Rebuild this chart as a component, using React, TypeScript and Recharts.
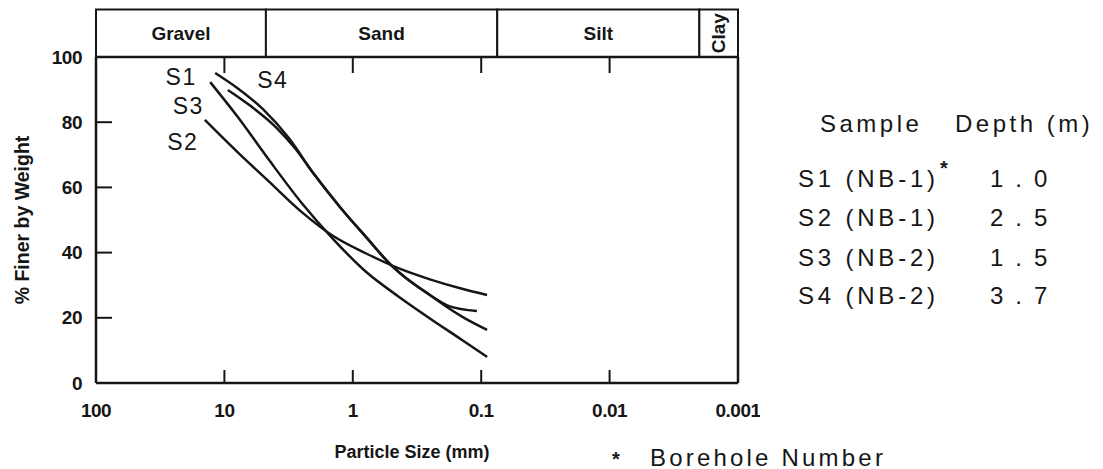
import React from 'react';
import { LineChart, Line, XAxis, YAxis, ReferenceArea, Label } from 'recharts';

const FONT = '"Liberation Sans", Arial, Helvetica, sans-serif';
const INK = '#161616';

// x axis (particle size, mm) and y axis (% finer) ticks
const xTicks = [100, 10, 1, 0.1, 0.01, 0.001];
const yTicks = [0, 20, 40, 60, 80, 100];

// soil classes shown in the header band (size boundaries, mm)
const classNames = ['Gravel', 'Sand', 'Silt', 'Clay'];
const classFrom = [100, 4.75, 0.075, 0.002];
const classTo = [4.75, 0.075, 0.002, 0.001];

// grading curves: particle size (mm) and % finer by weight
const s1Size = [11.8, 7.94, 5.01, 3.16, 2.0, 1.26, 0.794, 0.501, 0.355, 0.251, 0.178, 0.108];
const s1Pct = [95.1, 90.5, 84.0, 75.2, 64.0, 54.0, 44.9, 36.1, 31.1, 27.0, 23.6, 22.1];

const s2Size = [14.2, 7.94, 4.47, 2.51, 1.41, 0.794, 0.447, 0.251, 0.141, 0.09];
const s2Pct = [80.7, 70.9, 61.7, 52.5, 45.0, 39.8, 35.3, 31.8, 28.9, 27.0];

const s3Size = [12.9, 7.94, 4.47, 2.51, 1.41, 0.794, 0.447, 0.251, 0.141, 0.09];
const s3Pct = [92.3, 81.8, 68.3, 55.3, 44.0, 34.2, 26.7, 19.8, 13.2, 8.0];

const s4Size = [9.4, 6.31, 3.98, 2.82, 2.0, 1.26, 0.794, 0.501, 0.355, 0.251, 0.185, 0.139, 0.09];
const s4Pct = [89.9, 85.1, 78.5, 72.0, 64.0, 54.0, 44.9, 36.1, 31.1, 27.0, 23.3, 20.2, 16.3];

// legend table
const sampleIds = ['S1', 'S2', 'S3', 'S4'];
const boreholes = ['NB-1', 'NB-1', 'NB-2', 'NB-2'];
const depths = ['1.0', '2.5', '1.5', '3.7'];
const footnotedSample = 'S1';

const zip = (sizes: number[], pcts: number[]) => sizes.map((size, i) => ({ size, pct: pcts[i] }));

const series = [
  { id: 'S1', data: zip(s1Size, s1Pct), dx: -34, dy: 4 },
  { id: 'S2', data: zip(s2Size, s2Pct), dx: -22, dy: 22 },
  { id: 'S3', data: zip(s3Size, s3Pct), dx: -22, dy: 24 },
  { id: 'S4', data: zip(s4Size, s4Pct), dx: 45, dy: -10 },
];

// layout constant: header band top expressed on the % scale
const HEADER_TOP = 114.6;

const tickText = { fontFamily: FONT, fontSize: 19, fontWeight: 700, fill: INK } as const;

const LeftTick = (props: any) => {
  const { x, y, payload } = props;
  const v = payload.value;
  return (
    <g>
      {v > 0 && v < 100 && <line x1={x} x2={x + 16} y1={y} y2={y} stroke={INK} strokeWidth={2} />}
      <text x={x - 14} y={y} textAnchor="end" dominantBaseline="central" style={tickText} letterSpacing={-0.5}>
        {v}
      </text>
    </g>
  );
};

const RightTick = (props: any) => {
  const { x, y, payload } = props;
  const v = payload.value;
  if (!(v > 0 && v < 100)) return <g />;
  return <line x1={x} x2={x - 15} y1={y} y2={y} stroke={INK} strokeWidth={2} />;
};

const BottomTick = (props: any) => {
  const { x, y, payload } = props;
  const v = payload.value;
  return (
    <g>
      {v < 100 && v > 0.001 && <line x1={x} x2={x} y1={y} y2={y - 13} stroke={INK} strokeWidth={2} />}
      <text x={x} y={y + 27} textAnchor="middle" dominantBaseline="central" style={tickText} letterSpacing={-0.5}>
        {String(v)}
      </text>
    </g>
  );
};

const TopTick = (props: any) => {
  const { x, y, payload } = props;
  const v = payload.value;
  if (!(v < 100 && v > 0.001)) return <g />;
  return <line x1={x} x2={x} y1={y} y2={y + 16} stroke={INK} strokeWidth={2} />;
};

const XLabel = (props: any) => {
  const vb = props.viewBox;
  return (
    <text x={vb.x + vb.width / 2 - 5} y={vb.y + 69} textAnchor="middle" dominantBaseline="central"
      style={{ fontFamily: FONT, fontSize: 18, fontWeight: 700, fill: INK }}>
      Particle Size (mm)
    </text>
  );
};

const YLabel = (props: any) => {
  const vb = props.viewBox;
  const cx = vb.x + 22;
  const cy = vb.y + vb.height / 2;
  return (
    <text x={cx} y={cy} transform={`rotate(-90 ${cx} ${cy})`} textAnchor="middle" dominantBaseline="central"
      style={{ fontFamily: FONT, fontSize: 19.5, fontWeight: 700, fill: INK }}>
      % Finer by Weight
    </text>
  );
};

const headerLabel = (name: string, vertical: boolean) => (props: any) => {
  const vb = props.viewBox;
  const cx = vb.x + vb.width / 2;
  const cy = vb.y + vb.height / 2;
  return (
    <text x={cx} y={cy} transform={vertical ? `rotate(-90 ${cx} ${cy})` : undefined}
      textAnchor="middle" dominantBaseline="central"
      style={{ fontFamily: FONT, fontSize: 19, fontWeight: 700, fill: INK }}>
      {name}
    </text>
  );
};

const curveLabel = (id: string, dx: number, dy: number) => (props: any) => {
  if (props.index !== 0) return null;
  return (
    <text x={props.x + dx} y={props.y + dy} textAnchor="middle" dominantBaseline="central"
      style={{ fontFamily: FONT, fontSize: 23, fill: INK }} letterSpacing={1.5}>
      {id}
    </text>
  );
};

const legendText = { fontFamily: FONT, fontSize: 24, fill: INK } as const;
const rowY = [178, 217, 257, 295];

export default function App() {
  return (
    <div style={{ position: 'absolute', left: 0, top: 0, width: 1103, height: 469, background: '#fff' }}>
      <div style={{ position: 'absolute', left: 0, top: 0 }}>
        <LineChart width={760} height={469} margin={{ top: 56, right: 12, bottom: 16, left: 0 }}>
          <XAxis xAxisId="bottom" type="number" dataKey="size" scale="log" domain={[0.001, 100]} reversed
            ticks={xTicks} interval={0} allowDataOverflow height={70} orientation="bottom"
            axisLine={{ stroke: INK, strokeWidth: 2.5 }} tickLine={false} tickSize={0} tickMargin={0} tick={BottomTick}>
            <Label content={XLabel} />
          </XAxis>
          <XAxis xAxisId="top" type="number" dataKey="size" scale="log" domain={[0.001, 100]} reversed
            ticks={xTicks} interval={0} allowDataOverflow height={1} orientation="top"
            axisLine={{ stroke: INK, strokeWidth: 2.5 }} tickLine={false} tickSize={0} tickMargin={0} tick={TopTick} />
          <YAxis yAxisId="left" type="number" domain={[0, 100]} ticks={yTicks} interval={0} width={96}
            axisLine={{ stroke: INK, strokeWidth: 2.5 }} tickLine={false} tickSize={0} tickMargin={0} tick={LeftTick}>
            <Label content={YLabel} />
          </YAxis>
          <YAxis yAxisId="right" orientation="right" type="number" domain={[0, 100]} ticks={yTicks} interval={0} width={10}
            axisLine={{ stroke: INK, strokeWidth: 2.5 }} tickLine={false} tickSize={0} tickMargin={0} tick={RightTick} />
          {classNames.map((name, i) => (
            <ReferenceArea key={name} xAxisId="bottom" yAxisId="left" x1={classFrom[i]} x2={classTo[i]}
              y1={100} y2={HEADER_TOP} ifOverflow="visible" fill="#fff" fillOpacity={1}
              stroke={INK} strokeWidth={2} label={headerLabel(name, name === 'Clay')} />
          ))}
          {series.map((s) => (
            <Line key={s.id} xAxisId="bottom" yAxisId="left" data={s.data} dataKey="pct" type="monotone"
              stroke={INK} strokeWidth={2.5} dot={false} activeDot={false} isAnimationActive={false}
              label={curveLabel(s.id, s.dx, s.dy)} />
          ))}
        </LineChart>
      </div>
      <svg width={1103} height={469} style={{ position: 'absolute', left: 0, top: 0, pointerEvents: 'none' }}>
        <text x={820} y={123} dominantBaseline="central" style={legendText} letterSpacing={3.5}>Sample</text>
        <text x={955} y={123} dominantBaseline="central" style={legendText} letterSpacing={3.5}>Depth (m)</text>
        {sampleIds.map((id, i) => (
          <g key={id}>
            <text x={798} y={rowY[i]} dominantBaseline="central" style={legendText} letterSpacing={3.8}>
              {`${id} (${boreholes[i]})`}
            </text>
            {id === footnotedSample && (
              <text x={940} y={168} dominantBaseline="central" style={{ ...legendText, fontSize: 20, fontWeight: 700 }}>*</text>
            )}
            <text x={990} y={rowY[i]} dominantBaseline="central" style={legendText} letterSpacing={12}>
              {depths[i]}
            </text>
          </g>
        ))}
        <text x={616} y={459} textAnchor="middle" dominantBaseline="central" style={{ ...legendText, fontSize: 20, fontWeight: 700 }}>*</text>
        <text x={650} y={457} dominantBaseline="central" style={legendText} letterSpacing={3.2}>Borehole Number</text>
      </svg>
    </div>
  );
}
